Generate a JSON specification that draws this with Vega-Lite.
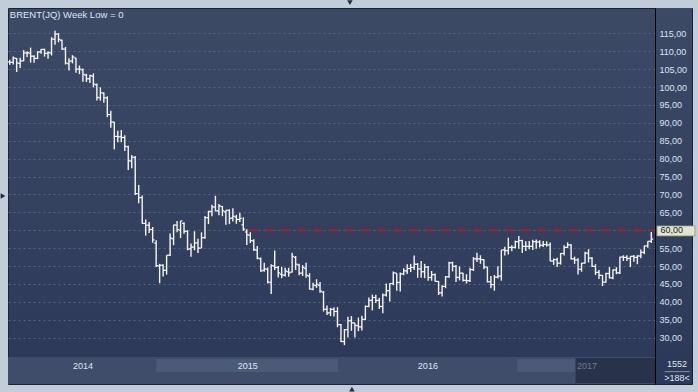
{
  "$schema": "https://vega.github.io/schema/vega-lite/v6.json",
  "width": 684,
  "height": 376,
  "autosize": {"type": "none"},
  "padding": {"left": 8, "top": 8, "right": 6, "bottom": 8},
  "background": "#c3ccd9",
  "config": {
    "view": {
      "fill": {"gradient": "linear", "x1": 0, "y1": 0, "x2": 0, "y2": 1, "stops": [{"offset": 0, "color": "#3d4a66"}, {"offset": 1, "color": "#2c3858"}]},
      "stroke": "#1b2434",
      "strokeWidth": 1
    }
  },
  "datasets": {
    "bars": [
      {"d":"2014-03-17","o":107.0,"h":107.6,"l":106.2,"c":106.9},
      {"d":"2014-03-24","o":106.9,"h":108.5,"l":106.3,"c":108.1},
      {"d":"2014-03-31","o":108.0,"h":108.1,"l":104.2,"c":106.7},
      {"d":"2014-04-07","o":106.6,"h":108.2,"l":105.3,"c":107.3},
      {"d":"2014-04-14","o":107.3,"h":110.3,"l":107.2,"c":109.5},
      {"d":"2014-04-21","o":109.5,"h":110.0,"l":108.4,"c":109.6},
      {"d":"2014-04-28","o":109.4,"h":111.0,"l":106.8,"c":108.6},
      {"d":"2014-05-05","o":108.6,"h":108.9,"l":106.8,"c":108.0},
      {"d":"2014-05-12","o":108.0,"h":110.0,"l":107.8,"c":109.8},
      {"d":"2014-05-19","o":109.8,"h":110.6,"l":109.3,"c":110.5},
      {"d":"2014-05-26","o":110.5,"h":110.7,"l":108.5,"c":109.4},
      {"d":"2014-06-02","o":109.4,"h":110.0,"l":107.9,"c":109.6},
      {"d":"2014-06-09","o":109.5,"h":113.9,"l":108.8,"c":113.4},
      {"d":"2014-06-16","o":113.3,"h":115.7,"l":111.8,"c":114.8},
      {"d":"2014-06-23","o":114.8,"h":115.0,"l":112.5,"c":113.3},
      {"d":"2014-06-30","o":113.0,"h":113.3,"l":110.4,"c":110.6},
      {"d":"2014-07-07","o":110.6,"h":111.2,"l":106.3,"c":106.7},
      {"d":"2014-07-14","o":106.5,"h":108.0,"l":104.6,"c":107.2},
      {"d":"2014-07-21","o":107.3,"h":108.9,"l":106.6,"c":108.4},
      {"d":"2014-07-28","o":108.1,"h":108.2,"l":104.0,"c":105.0},
      {"d":"2014-08-04","o":105.0,"h":106.0,"l":103.6,"c":105.0},
      {"d":"2014-08-11","o":104.8,"h":105.2,"l":101.5,"c":103.5},
      {"d":"2014-08-18","o":103.3,"h":103.7,"l":101.4,"c":102.3},
      {"d":"2014-08-25","o":102.3,"h":103.4,"l":101.1,"c":103.2},
      {"d":"2014-09-01","o":103.0,"h":103.8,"l":99.9,"c":100.8},
      {"d":"2014-09-08","o":100.6,"h":101.0,"l":96.2,"c":97.1},
      {"d":"2014-09-15","o":97.0,"h":99.9,"l":96.2,"c":98.4},
      {"d":"2014-09-22","o":98.3,"h":98.5,"l":95.6,"c":97.0},
      {"d":"2014-09-29","o":97.0,"h":97.4,"l":91.6,"c":92.3},
      {"d":"2014-10-06","o":92.3,"h":93.4,"l":88.6,"c":90.2},
      {"d":"2014-10-13","o":90.2,"h":90.3,"l":82.6,"c":86.2},
      {"d":"2014-10-20","o":86.2,"h":87.8,"l":84.6,"c":86.1},
      {"d":"2014-10-27","o":86.1,"h":88.0,"l":84.6,"c":85.9},
      {"d":"2014-11-03","o":85.9,"h":86.5,"l":82.1,"c":83.4},
      {"d":"2014-11-10","o":83.3,"h":83.6,"l":76.8,"c":79.4},
      {"d":"2014-11-17","o":79.3,"h":81.0,"l":77.3,"c":80.4},
      {"d":"2014-11-24","o":80.3,"h":80.7,"l":69.8,"c":70.2},
      {"d":"2014-12-01","o":70.2,"h":72.6,"l":67.5,"c":69.1},
      {"d":"2014-12-08","o":69.1,"h":69.7,"l":61.8,"c":61.9},
      {"d":"2014-12-15","o":61.9,"h":63.0,"l":58.5,"c":61.4},
      {"d":"2014-12-22","o":61.4,"h":62.3,"l":59.2,"c":60.2},
      {"d":"2014-12-29","o":60.2,"h":60.9,"l":56.5,"c":57.3},
      {"d":"2015-01-05","o":56.4,"h":57.2,"l":49.7,"c":50.1},
      {"d":"2015-01-12","o":50.0,"h":50.6,"l":45.2,"c":50.2},
      {"d":"2015-01-19","o":50.2,"h":50.5,"l":47.1,"c":48.8},
      {"d":"2015-01-26","o":48.8,"h":53.0,"l":47.6,"c":53.0},
      {"d":"2015-02-02","o":53.0,"h":59.1,"l":52.8,"c":57.8},
      {"d":"2015-02-09","o":57.6,"h":61.5,"l":55.8,"c":61.5},
      {"d":"2015-02-16","o":61.4,"h":62.6,"l":59.4,"c":60.2},
      {"d":"2015-02-23","o":60.0,"h":62.6,"l":57.8,"c":62.6},
      {"d":"2015-03-02","o":61.9,"h":62.2,"l":59.0,"c":59.7},
      {"d":"2015-03-09","o":59.7,"h":60.0,"l":54.4,"c":54.7},
      {"d":"2015-03-16","o":54.8,"h":56.3,"l":52.6,"c":55.3},
      {"d":"2015-03-23","o":55.3,"h":59.7,"l":54.4,"c":56.4},
      {"d":"2015-03-30","o":56.5,"h":57.6,"l":53.6,"c":55.0},
      {"d":"2015-04-06","o":55.0,"h":59.4,"l":55.0,"c":57.9},
      {"d":"2015-04-13","o":57.9,"h":64.0,"l":57.6,"c":63.5},
      {"d":"2015-04-20","o":63.5,"h":65.4,"l":61.7,"c":65.3},
      {"d":"2015-04-27","o":65.2,"h":67.1,"l":63.9,"c":66.5},
      {"d":"2015-05-04","o":66.5,"h":69.6,"l":65.3,"c":65.4},
      {"d":"2015-05-11","o":65.4,"h":67.3,"l":64.2,"c":66.8},
      {"d":"2015-05-18","o":66.6,"h":66.8,"l":63.9,"c":65.4},
      {"d":"2015-05-25","o":65.1,"h":65.6,"l":61.5,"c":65.6},
      {"d":"2015-06-01","o":65.5,"h":65.9,"l":61.7,"c":63.3},
      {"d":"2015-06-08","o":63.4,"h":66.1,"l":62.4,"c":63.9},
      {"d":"2015-06-15","o":63.7,"h":64.3,"l":61.8,"c":63.0},
      {"d":"2015-06-22","o":63.0,"h":64.9,"l":62.3,"c":63.3},
      {"d":"2015-06-29","o":61.5,"h":63.6,"l":59.8,"c":60.3},
      {"d":"2015-07-06","o":59.5,"h":60.3,"l":55.9,"c":58.7},
      {"d":"2015-07-13","o":58.6,"h":59.4,"l":56.4,"c":57.1},
      {"d":"2015-07-20","o":57.0,"h":57.5,"l":54.2,"c":54.6},
      {"d":"2015-07-27","o":54.4,"h":55.6,"l":51.9,"c":52.2},
      {"d":"2015-08-03","o":52.0,"h":52.4,"l":48.4,"c":48.6},
      {"d":"2015-08-10","o":48.8,"h":50.9,"l":48.4,"c":49.2},
      {"d":"2015-08-17","o":49.1,"h":49.6,"l":45.1,"c":45.5},
      {"d":"2015-08-24","o":45.4,"h":50.5,"l":42.2,"c":50.1},
      {"d":"2015-08-31","o":50.0,"h":54.3,"l":48.9,"c":49.6},
      {"d":"2015-09-07","o":49.6,"h":50.0,"l":46.8,"c":48.1},
      {"d":"2015-09-14","o":47.7,"h":49.8,"l":46.6,"c":47.5},
      {"d":"2015-09-21","o":47.4,"h":49.5,"l":47.1,"c":48.6},
      {"d":"2015-09-28","o":48.4,"h":49.5,"l":47.0,"c":48.1},
      {"d":"2015-10-05","o":48.3,"h":53.7,"l":48.2,"c":52.7},
      {"d":"2015-10-12","o":52.4,"h":52.8,"l":48.9,"c":50.5},
      {"d":"2015-10-19","o":50.3,"h":50.6,"l":47.4,"c":48.0},
      {"d":"2015-10-26","o":48.0,"h":50.3,"l":47.2,"c":49.6},
      {"d":"2015-11-02","o":49.3,"h":50.9,"l":46.7,"c":47.4},
      {"d":"2015-11-09","o":47.2,"h":48.0,"l":43.4,"c":43.6},
      {"d":"2015-11-16","o":43.5,"h":45.3,"l":43.2,"c":44.7},
      {"d":"2015-11-23","o":44.5,"h":46.3,"l":43.9,"c":44.9},
      {"d":"2015-11-30","o":44.6,"h":45.5,"l":42.5,"c":43.0},
      {"d":"2015-12-07","o":42.7,"h":43.0,"l":37.3,"c":37.9},
      {"d":"2015-12-14","o":37.9,"h":39.0,"l":36.3,"c":36.9},
      {"d":"2015-12-21","o":36.9,"h":38.3,"l":36.0,"c":37.9},
      {"d":"2015-12-28","o":37.9,"h":38.5,"l":35.9,"c":37.3},
      {"d":"2016-01-04","o":37.3,"h":38.5,"l":32.9,"c":33.6},
      {"d":"2016-01-11","o":33.6,"h":33.8,"l":28.8,"c":28.9},
      {"d":"2016-01-18","o":28.9,"h":32.4,"l":27.9,"c":32.2},
      {"d":"2016-01-25","o":32.2,"h":35.8,"l":30.0,"c":34.7},
      {"d":"2016-02-01","o":34.7,"h":36.0,"l":31.9,"c":34.1},
      {"d":"2016-02-08","o":34.1,"h":34.1,"l":30.0,"c":33.4},
      {"d":"2016-02-15","o":33.3,"h":35.6,"l":31.8,"c":33.0},
      {"d":"2016-02-22","o":33.0,"h":36.1,"l":32.0,"c":35.1},
      {"d":"2016-02-29","o":35.1,"h":39.0,"l":34.9,"c":38.7},
      {"d":"2016-03-07","o":38.7,"h":41.2,"l":38.5,"c":40.4},
      {"d":"2016-03-14","o":40.4,"h":42.0,"l":37.6,"c":41.2},
      {"d":"2016-03-21","o":41.2,"h":42.0,"l":39.7,"c":40.4},
      {"d":"2016-03-28","o":40.4,"h":41.1,"l":38.0,"c":38.7},
      {"d":"2016-04-04","o":38.7,"h":42.3,"l":36.8,"c":41.9},
      {"d":"2016-04-11","o":41.9,"h":45.1,"l":41.5,"c":43.1},
      {"d":"2016-04-18","o":43.1,"h":45.2,"l":40.1,"c":45.1},
      {"d":"2016-04-25","o":45.1,"h":48.5,"l":44.6,"c":48.1},
      {"d":"2016-05-02","o":48.0,"h":48.0,"l":43.1,"c":45.4},
      {"d":"2016-05-09","o":45.4,"h":48.2,"l":42.9,"c":47.8},
      {"d":"2016-05-16","o":47.8,"h":49.4,"l":47.4,"c":48.7},
      {"d":"2016-05-23","o":48.6,"h":50.5,"l":47.8,"c":49.3},
      {"d":"2016-05-30","o":49.3,"h":50.6,"l":48.3,"c":49.6},
      {"d":"2016-06-06","o":49.6,"h":52.9,"l":48.9,"c":50.5},
      {"d":"2016-06-13","o":50.5,"h":50.8,"l":46.7,"c":49.2},
      {"d":"2016-06-20","o":49.2,"h":51.4,"l":46.7,"c":48.4},
      {"d":"2016-06-27","o":48.4,"h":50.6,"l":46.6,"c":49.7},
      {"d":"2016-07-04","o":49.7,"h":50.0,"l":45.9,"c":46.8},
      {"d":"2016-07-11","o":46.8,"h":48.6,"l":45.9,"c":47.6},
      {"d":"2016-07-18","o":47.6,"h":47.9,"l":45.6,"c":45.7},
      {"d":"2016-07-25","o":45.7,"h":45.8,"l":41.9,"c":42.5},
      {"d":"2016-08-01","o":42.5,"h":44.6,"l":41.5,"c":44.3},
      {"d":"2016-08-08","o":44.3,"h":47.2,"l":43.8,"c":47.0},
      {"d":"2016-08-15","o":47.0,"h":51.2,"l":46.7,"c":50.9},
      {"d":"2016-08-22","o":50.9,"h":51.2,"l":48.5,"c":49.9},
      {"d":"2016-08-29","o":49.9,"h":50.3,"l":45.5,"c":46.8},
      {"d":"2016-09-05","o":46.8,"h":49.9,"l":46.0,"c":48.0},
      {"d":"2016-09-12","o":48.0,"h":48.1,"l":45.7,"c":46.0},
      {"d":"2016-09-19","o":46.0,"h":47.7,"l":45.1,"c":45.9},
      {"d":"2016-09-26","o":45.9,"h":49.5,"l":45.5,"c":49.0},
      {"d":"2016-10-03","o":49.0,"h":52.5,"l":48.6,"c":52.0},
      {"d":"2016-10-10","o":52.0,"h":53.7,"l":51.1,"c":52.0},
      {"d":"2016-10-17","o":52.0,"h":53.0,"l":50.6,"c":51.8},
      {"d":"2016-10-24","o":51.8,"h":51.9,"l":49.1,"c":49.7},
      {"d":"2016-10-31","o":49.7,"h":49.8,"l":45.4,"c":45.6},
      {"d":"2016-11-07","o":45.6,"h":47.2,"l":43.8,"c":44.8},
      {"d":"2016-11-14","o":44.8,"h":47.5,"l":43.1,"c":46.9},
      {"d":"2016-11-21","o":46.9,"h":49.9,"l":46.5,"c":47.2},
      {"d":"2016-11-28","o":47.2,"h":54.5,"l":45.9,"c":54.5},
      {"d":"2016-12-05","o":54.5,"h":55.4,"l":52.9,"c":54.3},
      {"d":"2016-12-12","o":54.3,"h":57.9,"l":53.2,"c":55.2},
      {"d":"2016-12-19","o":55.2,"h":55.8,"l":54.1,"c":55.2},
      {"d":"2016-12-26","o":55.2,"h":57.1,"l":54.9,"c":56.8},
      {"d":"2017-01-02","o":56.8,"h":58.4,"l":54.8,"c":57.1},
      {"d":"2017-01-09","o":57.1,"h":57.3,"l":53.6,"c":55.5},
      {"d":"2017-01-16","o":55.5,"h":56.9,"l":54.2,"c":55.5},
      {"d":"2017-01-23","o":55.5,"h":57.0,"l":54.7,"c":55.5},
      {"d":"2017-01-30","o":55.5,"h":57.3,"l":54.5,"c":56.8},
      {"d":"2017-02-06","o":56.8,"h":57.4,"l":54.8,"c":56.7},
      {"d":"2017-02-13","o":56.7,"h":57.2,"l":55.2,"c":55.8},
      {"d":"2017-02-20","o":55.8,"h":57.0,"l":55.3,"c":56.0},
      {"d":"2017-02-27","o":56.0,"h":56.9,"l":55.4,"c":55.9},
      {"d":"2017-03-06","o":55.9,"h":56.6,"l":51.3,"c":51.4},
      {"d":"2017-03-13","o":51.4,"h":52.1,"l":50.3,"c":51.8},
      {"d":"2017-03-20","o":51.8,"h":52.3,"l":49.7,"c":50.8},
      {"d":"2017-03-27","o":50.8,"h":53.6,"l":50.4,"c":53.5},
      {"d":"2017-04-03","o":53.5,"h":55.8,"l":52.9,"c":55.2},
      {"d":"2017-04-10","o":55.2,"h":56.6,"l":55.0,"c":55.9},
      {"d":"2017-04-17","o":55.9,"h":56.1,"l":51.8,"c":52.0},
      {"d":"2017-04-24","o":52.0,"h":52.6,"l":50.6,"c":51.7},
      {"d":"2017-05-01","o":51.7,"h":52.2,"l":47.6,"c":49.1},
      {"d":"2017-05-08","o":49.1,"h":50.9,"l":48.4,"c":50.8},
      {"d":"2017-05-15","o":50.8,"h":54.0,"l":50.7,"c":53.6},
      {"d":"2017-05-22","o":53.6,"h":54.7,"l":51.0,"c":52.2},
      {"d":"2017-05-29","o":52.2,"h":52.5,"l":49.7,"c":49.9},
      {"d":"2017-06-05","o":49.9,"h":50.5,"l":47.5,"c":48.2},
      {"d":"2017-06-12","o":48.2,"h":48.9,"l":46.4,"c":47.4},
      {"d":"2017-06-19","o":47.4,"h":47.5,"l":44.4,"c":45.5},
      {"d":"2017-06-26","o":45.5,"h":48.1,"l":45.4,"c":47.9},
      {"d":"2017-07-03","o":47.9,"h":49.7,"l":46.5,"c":46.7},
      {"d":"2017-07-10","o":46.7,"h":49.0,"l":46.3,"c":48.9},
      {"d":"2017-07-17","o":48.9,"h":49.7,"l":47.7,"c":48.1},
      {"d":"2017-07-24","o":48.1,"h":52.6,"l":47.8,"c":52.5},
      {"d":"2017-07-31","o":52.5,"h":53.0,"l":51.4,"c":52.4},
      {"d":"2017-08-07","o":52.4,"h":53.0,"l":51.4,"c":52.1},
      {"d":"2017-08-14","o":52.1,"h":52.7,"l":49.7,"c":52.7},
      {"d":"2017-08-21","o":52.7,"h":53.1,"l":51.2,"c":52.4},
      {"d":"2017-08-28","o":52.4,"h":53.0,"l":50.5,"c":52.8},
      {"d":"2017-09-04","o":52.8,"h":54.6,"l":52.2,"c":53.8},
      {"d":"2017-09-11","o":53.8,"h":55.7,"l":53.3,"c":55.6},
      {"d":"2017-09-18","o":55.6,"h":56.9,"l":55.1,"c":56.9},
      {"d":"2017-09-25","o":56.9,"h":59.5,"l":56.4,"c":57.5}
    ]
  },
  "layer": [
    {
      "data": {"values": [{"from": "2017-10-03T10:00:00Z", "to": "2017-12-15T17:00:00Z"}]},
      "mark": {"type": "rect", "fill": {"gradient": "linear", "x1": 0, "y1": 0, "x2": 0, "y2": 1, "stops": [{"offset": 0, "color": "#3d4a66"}, {"offset": 1, "color": "#2c3858"}]}},
      "encoding": {
        "x": {"field": "from", "type": "temporal", "axis": null},
        "x2": {"field": "to"},
        "y": {"datum": 17.04, "type": "quantitative", "axis": null},
        "y2": {"datum": 122.07}
      }
    },
    {
      "data": {"values": [{"from": "2014-03-13T14:24:00Z", "to": "2017-10-03T10:00:00Z"}]},
      "mark": {"type": "rect", "fill": "#3f4d6a"},
      "encoding": {
        "x": {"field": "from", "type": "temporal", "axis": null},
        "x2": {"field": "to"},
        "y": {"datum": 17.04, "type": "quantitative", "axis": null},
        "y2": {"datum": 24.58}
      }
    },
    {
      "data": {"values": [{"from": "2015-01-05", "to": "2016-01-05"}, {"from": "2016-12-29T19:00:00Z", "to": "2017-04-26"}]},
      "mark": {"type": "rect", "fill": "#4b5a77"},
      "encoding": {
        "x": {"field": "from", "type": "temporal", "axis": null},
        "x2": {"field": "to"},
        "y": {"datum": 20.39, "type": "quantitative", "axis": null},
        "y2": {"datum": 24.02}
      }
    },
    {
      "data": {"values": [{"from": "2017-04-26", "to": "2017-10-03T10:00:00Z"}]},
      "mark": {"type": "rect", "fill": "#28334b"},
      "encoding": {
        "x": {"field": "from", "type": "temporal", "axis": null},
        "x2": {"field": "to"},
        "y": {"datum": 17.32, "type": "quantitative", "axis": null},
        "y2": {"datum": 24.3}
      }
    },
    {
      "data": {"values": [{"label": "2014", "at": "2014-08-11"}, {"label": "2015", "at": "2015-07-08"}, {"label": "2016", "at": "2016-07-03T12:00:00Z"}]},
      "mark": {"type": "text", "align": "center", "baseline": "middle", "font": "Liberation Sans", "fontSize": 9, "color": "#dfe6ee"},
      "encoding": {
        "x": {"field": "at", "type": "temporal", "axis": null},
        "y": {"datum": 22.2, "type": "quantitative", "axis": null},
        "text": {"field": "label"}
      }
    },
    {
      "data": {"values": [{"label": "2017", "at": "2017-05-19"}]},
      "mark": {"type": "text", "align": "center", "baseline": "middle", "font": "Liberation Sans", "fontSize": 9, "color": "#6f7b90"},
      "encoding": {
        "x": {"field": "at", "type": "temporal", "axis": null},
        "y": {"datum": 22.2, "type": "quantitative", "axis": null},
        "text": {"field": "label"}
      }
    },
    {
      "mark": {"type": "rule", "color": "#000000", "strokeWidth": 1},
      "encoding": {
        "y": {"datum": 24.58, "type": "quantitative", "axis": null}
      }
    },
    {
      "data": {"values": [{"from": "2015-07-11", "to": "2017-10-03T10:00:00Z", "price": 60}]},
      "mark": {"type": "rule", "color": "#a3202e", "strokeWidth": 2, "strokeDash": [9, 7]},
      "encoding": {
        "x": {"field": "from", "type": "temporal", "axis": null},
        "x2": {"field": "to"},
        "y": {"field": "price", "type": "quantitative", "axis": null}
      }
    },
    {
      "data": {"name": "bars"},
      "mark": {"type": "rule", "color": "#f6f6f6", "strokeWidth": 1.4},
      "encoding": {
        "x": {
          "field": "d", "type": "temporal",
          "scale": {"type": "utc", "domain": [{"year": 2014, "month": 3, "date": 13, "hours": 14, "minutes": 24, "utc": true}, {"year": 2017, "month": 12, "date": 15, "hours": 17, "utc": true}]},
          "axis": {"orient": "bottom", "values": [{"year": 2015, "month": 1, "date": 5, "utc": true}, {"year": 2016, "month": 1, "date": 4, "utc": true}, {"year": 2017, "month": 1, "date": 2, "utc": true}], "grid": true, "gridColor": "#56647f", "gridDash": [2, 3], "gridWidth": 1, "labels": false, "ticks": false, "domain": false, "title": null}
        },
        "y": {
          "field": "l", "type": "quantitative",
          "scale": {"domain": [17.04, 122.07], "nice": false, "zero": false},
          "axis": {"orient": "left", "values": [30, 35, 40, 45, 50, 55, 60, 65, 70, 75, 80, 85, 90, 95, 100, 105, 110, 115], "grid": true, "gridColor": "#56647f", "gridDash": [2, 3], "gridWidth": 1, "labels": false, "ticks": false, "domain": false, "title": null}
        },
        "y2": {"field": "h"}
      }
    },
    {
      "data": {"name": "bars"},
      "mark": {"type": "rule", "color": "#f6f6f6", "strokeWidth": 1.2, "xOffset": -1.9, "x2Offset": 0},
      "encoding": {
        "x": {"field": "d", "type": "temporal", "axis": null},
        "x2": {"field": "d"},
        "y": {"field": "o", "type": "quantitative", "axis": null}
      }
    },
    {
      "data": {"name": "bars"},
      "mark": {"type": "rule", "color": "#f6f6f6", "strokeWidth": 1.2, "xOffset": 0, "x2Offset": 1.9},
      "encoding": {
        "x": {"field": "d", "type": "temporal", "axis": null},
        "x2": {"field": "d"},
        "y": {"field": "c", "type": "quantitative", "axis": null}
      }
    },
    {
      "data": {"values": [{"at": "2014-03-17T06:00:00Z", "text": "BRENT(JQ) Week Low = 0"}]},
      "mark": {"type": "text", "align": "left", "baseline": "alphabetic", "font": "Liberation Sans", "fontSize": 9.5, "color": "#dce6f4"},
      "encoding": {
        "x": {"field": "at", "type": "temporal", "axis": null},
        "y": {"datum": 119.19, "type": "quantitative", "axis": null},
        "text": {"field": "text"}
      }
    },
    {
      "data": {"values": [{"from": "2017-10-06T10:00:00Z", "to": "2017-12-21T14:00:00Z"}]},
      "mark": {"type": "rect", "fill": "#e2e5cd", "stroke": "#8e9482", "strokeWidth": 0.8},
      "encoding": {
        "x": {"field": "from", "type": "temporal", "axis": null},
        "x2": {"field": "to"},
        "y": {"datum": 58.4, "type": "quantitative", "axis": null},
        "y2": {"datum": 61.2}
      }
    },
    {
      "data": {"values": [{"at": "2017-10-13T12:00:00Z", "price": 60, "text": "60,00"}]},
      "mark": {"type": "text", "align": "left", "baseline": "middle", "font": "Liberation Sans", "fontSize": 9, "color": "#1c2433"},
      "encoding": {
        "x": {"field": "at", "type": "temporal", "axis": null},
        "y": {
          "field": "price", "type": "quantitative",
          "axis": {"orient": "right", "offset": -37, "values": [30, 35, 40, 45, 50, 55, 65, 70, 75, 80, 85, 90, 95, 100, 105, 110, 115], "grid": false, "ticks": false, "domain": true, "domainColor": "#000000", "domainWidth": 1, "labelColor": "#d9e4f3", "labelFont": "Liberation Sans", "labelFontSize": 9, "labelPadding": 4, "labelAlign": "left", "labelBaseline": "middle", "labelExpr": "replace(format(datum.value, '.2f'), '.', ',')", "title": null, "zindex": 1}
        },
        "text": {"field": "text"}
      }
    },
    {
      "data": {"values": [{"at": "2017-11-15T12:00:00Z", "top": "1552", "bottom": ">188<"}]},
      "layer": [
        {
          "mark": {"type": "text", "align": "center", "baseline": "middle", "font": "Liberation Sans", "fontSize": 9, "color": "#dfe6ee"},
          "encoding": {
            "x": {"field": "at", "type": "temporal", "axis": null},
            "y": {"datum": 22.7, "type": "quantitative", "axis": null},
            "text": {"field": "top"}
          }
        },
        {
          "mark": {"type": "text", "align": "center", "baseline": "middle", "font": "Liberation Sans", "fontSize": 9, "color": "#dfe6ee"},
          "encoding": {
            "x": {"field": "at", "type": "temporal", "axis": null},
            "y": {"datum": 18.8, "type": "quantitative", "axis": null},
            "text": {"field": "bottom"}
          }
        }
      ]
    },
    {
      "data": {"values": [{"from": "2017-10-22", "to": "2017-12-11"}]},
      "mark": {"type": "rule", "color": "#8892a4", "strokeWidth": 1},
      "encoding": {
        "x": {"field": "from", "type": "temporal", "axis": null},
        "x2": {"field": "to"},
        "y": {"datum": 20.5, "type": "quantitative", "axis": null}
      }
    },
    {
      "data": {"values": [{"at": "2016-01-29", "price": 123.6, "kind": "down"}, {"at": "2016-02-02", "price": 15.64, "kind": "up"}, {"at": "2014-03-03T14:00:00Z", "price": 69.56, "kind": "right"}]},
      "mark": {"type": "point", "filled": true, "size": 30, "color": "#1f2a3c", "opacity": 1},
      "encoding": {
        "x": {"field": "at", "type": "temporal", "axis": null},
        "y": {"field": "price", "type": "quantitative", "axis": null},
        "shape": {"field": "kind", "type": "nominal", "scale": {"domain": ["down", "up", "right"], "range": ["triangle-down", "triangle-up", "triangle-right"]}, "legend": null}
      }
    }
  ],
  "resolve": {"axis": {"y": "independent"}}
}
